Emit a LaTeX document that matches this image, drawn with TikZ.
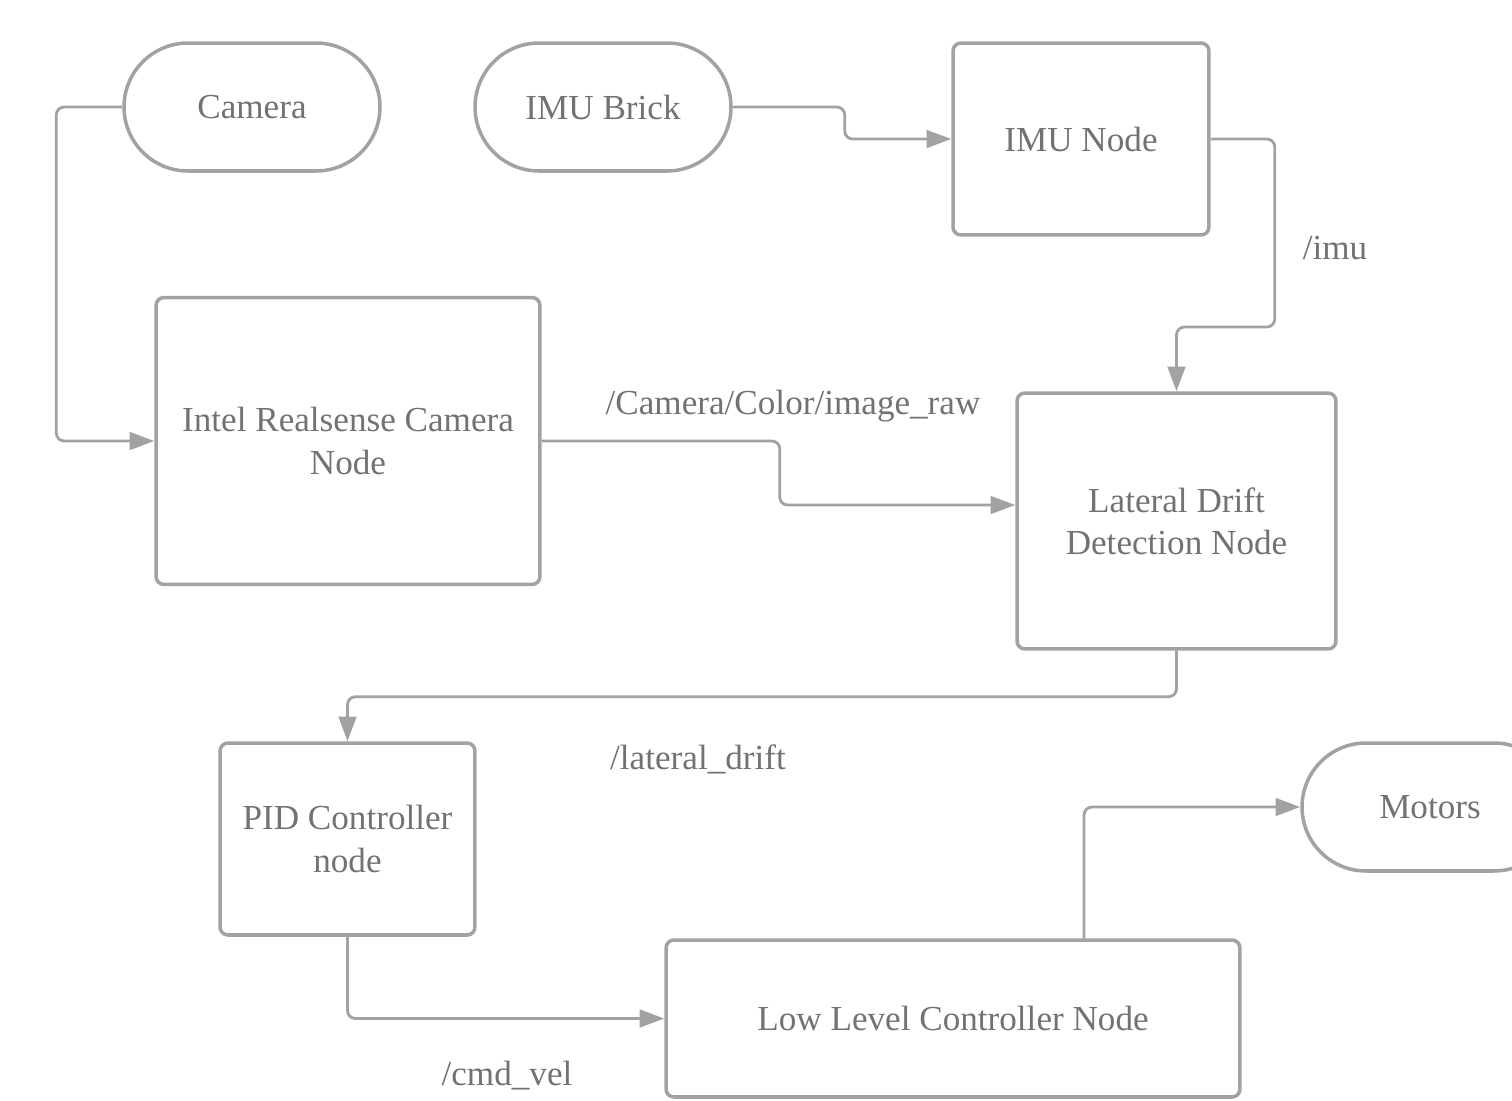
\documentclass[tikz,border=0pt]{standalone}
\usepackage{fontspec}
\setmainfont{Liberation Serif}
\usetikzlibrary{arrows.meta, calc}
\definecolor{linegray}{HTML}{A2A2A2}
\definecolor{textgray}{HTML}{727272}

\begin{document}
\begin{tikzpicture}[x = 0.02cm, y = -0.02cm,
	box/.style = {draw = linegray, line width = 2pt, rounded corners = 4.5pt,
		text = textgray, align = center, font = \fontsize{20}{24}\selectfont},
	pill/.style = {box, rounded corners = 1.28cm, minimum width = 5.12cm, minimum height = 2.56cm},
	flow/.style = {draw = linegray, line width = 1.6pt, rounded corners = 4.5pt,
		-{Triangle[length = 14pt, width = 10pt]}},
	topic/.style = {text = textgray, font = \fontsize{20}{24}\selectfont}]
	\clip (0, 0) rectangle (1512, 1100);
	\node[pill] (camera)   at (252, 107) {Camera};
	\node[pill] (imubrick) at (603, 107) {IMU Brick};
	\node[box, minimum width = 5.12cm, minimum height = 3.84cm] (imunode) at (1081, 139) {IMU Node};
	\node[box, minimum width = 7.68cm, minimum height = 5.74cm] (intel) at (348, 441) {Intel Realsense Camera\\Node};
	\node[box, minimum width = 6.38cm, minimum height = 5.12cm] (lateral) at (1176.5, 521) {Lateral Drift\\Detection Node};
	\node[box, minimum width = 5.10cm, minimum height = 3.84cm] (pid) at (347.5, 839) {PID Controller\\node};
	\node[box, minimum width = 11.48cm, minimum height = 3.14cm] (llc) at (953, 1018.5) {Low Level Controller Node};
	\node[pill] (motors)   at (1430, 807) {Motors};
	\node[topic] (imutopic)   at (1335, 248)  {/imu};
	\node[topic] (imagetopic) at (793, 406)   {/Camera/Color/image\_raw};
	\node[topic] (drifttopic) at (698, 759)   {/lateral\_drift};
	\node[topic] (cmdtopic)   at (507, 1076)  {/cmd\_vel};
	\draw[flow] (camera.west) -- ++(-66, 0) |- (intel.west);
	\draw[flow] (imubrick.east) -- ++(112, 0) |- (imunode.west);
	\draw[flow] (imunode.east) -| ++(64, 188) -| (lateral.north);
	\draw[flow] (intel.east) -| ++(238, 64) -- ($(lateral.west) + (0, -16)$);
	\draw[flow] (lateral.south) -- ++(0, 46) -| (pid.north);
	\draw[flow] (pid.south) |- (llc.west);
	\draw[flow] ($(llc.north) + (131, 0)$) |- (motors.west);
\end{tikzpicture}
\end{document}
